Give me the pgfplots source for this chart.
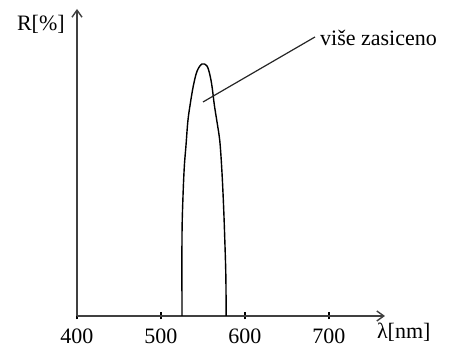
\documentclass[border=0pt]{standalone}
\usepackage{fontspec}
\setmainfont{Liberation Serif}
\usepackage{pgfplots}
\pgfplotsset{compat=1.18}
\usetikzlibrary{arrows.meta}
\begin{document}
\fontsize{11}{13}\selectfont
\begin{tikzpicture}
\useasboundingbox (0,0) rectangle (226pt,175.5pt);
\begin{axis}[
  at={(38.5pt,17.5pt)}, anchor=origin,
  scale only axis, width=154pt, height=153.5pt,
  xmin=400, xmax=766.67, ymin=0, ymax=307,
  axis lines=left,
  axis line style={line width=0.7pt, black!75, -{Straight Barb[length=3.5pt,width=5pt]}},
  xtick={400,500,600,700}, ytick=\empty,
  major tick length=3.5pt, tick align=center,
  tick style={black, line width=0.7pt},
  xticklabel style={font=\fontsize{11}{13}\selectfont, yshift=-1pt},
  /pgf/number format/assume math mode=true,
  clip=false,
]
\addplot [black, line width=0.7pt, smooth, tension=0.55] coordinates {
 (525,0) (525,80) (526.2,120) (527.8,150) (529.8,171) (532,195) (535,213) (538.7,231) (543,245) (548.8,252)
 (554.8,250) (558.5,240) (561,228) (563.5,211) (566.5,195) (570,175) (572.5,145) (574.5,110) (576,75) (577.2,40) (577.6,0)
};
\addplot [black!85, line width=0.6pt] coordinates {(550,214) (683.3,279)};
\node [anchor=west, inner sep=0pt] at (axis cs:689,278) {više zasiceno};
\node [inner sep=0pt] at (axis cs:789,-16) {λ[nm]};
\node [inner sep=0pt] at (axis cs:357,292) {R[\%]};
\end{axis}
\end{tikzpicture}
\end{document}
